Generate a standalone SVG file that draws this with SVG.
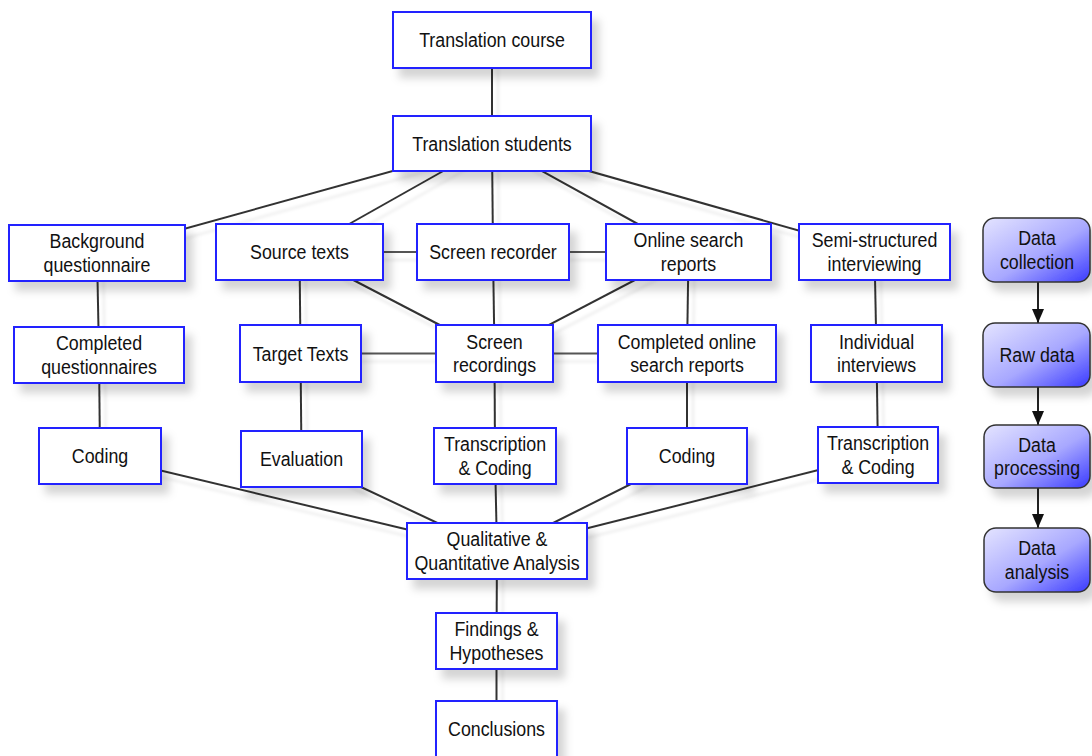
<svg xmlns="http://www.w3.org/2000/svg" width="1092" height="756" viewBox="0 0 1092 756">
<defs>
<filter id="sh" x="-20%" y="-20%" width="150%" height="160%">
<feDropShadow dx="7" dy="9" stdDeviation="4" flood-color="#000" flood-opacity="0.17"/>
</filter>
<filter id="lsh" x="-10%" y="-10%" width="120%" height="130%">
<feDropShadow dx="6" dy="8" stdDeviation="1.5" flood-color="#000" flood-opacity="0.08"/>
</filter>
<linearGradient id="lg" x1="0" y1="0" x2="1" y2="1">
<stop offset="0" stop-color="#e4e4ff"/>
<stop offset="0.55" stop-color="#a8a8ff"/>
<stop offset="1" stop-color="#3a3aff"/>
</linearGradient>
<marker id="ah" viewBox="0 0 14 12" refX="14" refY="6" markerWidth="14" markerHeight="12" markerUnits="userSpaceOnUse" orient="auto">
<path d="M0,0 L14,6 L0,12 Z" fill="#111"/>
</marker>
<style>
.b{fill:#fff;stroke:#2424ff;stroke-width:2;filter:url(#sh)}
.l{fill:url(#lg);stroke:#333;stroke-width:1.5;filter:url(#sh)}
.t{font-family:"Liberation Sans",Arial,sans-serif;font-size:20px;fill:#111;text-anchor:middle}
.c line{stroke:#333;stroke-width:2}
.a{stroke:#222;stroke-width:2}
</style>
</defs>
<g id="connectors" class="c" filter="url(#lsh)">
<line x1="492" y1="40" x2="492" y2="143.5"/>
<line x1="492" y1="143.5" x2="97" y2="253"/>
<line x1="492" y1="143.5" x2="299.5" y2="252"/>
<line x1="492" y1="143.5" x2="493" y2="252"/>
<line x1="492" y1="143.5" x2="688.5" y2="252"/>
<line x1="492" y1="143.5" x2="874.5" y2="252"/>
<line x1="299.5" y1="252" x2="493" y2="252" style="stroke:#555"/>
<line x1="493" y1="252" x2="688.5" y2="252" style="stroke:#555"/>
<line x1="299.5" y1="252" x2="494.5" y2="353.5"/>
<line x1="688.5" y1="252" x2="494.5" y2="353.5"/>
<line x1="493" y1="252" x2="494.5" y2="353.5"/>
<line x1="97" y1="253" x2="99" y2="355"/>
<line x1="299.5" y1="252" x2="300.5" y2="353.5"/>
<line x1="688.5" y1="252" x2="687" y2="353.5"/>
<line x1="874.5" y1="252" x2="876.5" y2="353.5"/>
<line x1="300.5" y1="353.5" x2="494.5" y2="353.5" style="stroke:#555"/>
<line x1="494.5" y1="353.5" x2="687" y2="353.5" style="stroke:#555"/>
<line x1="99" y1="355" x2="100" y2="456"/>
<line x1="300.5" y1="353.5" x2="301.5" y2="459"/>
<line x1="494.5" y1="353.5" x2="495" y2="456"/>
<line x1="687" y1="353.5" x2="687" y2="456"/>
<line x1="876.5" y1="353.5" x2="878" y2="455"/>
<line x1="100" y1="456" x2="497" y2="551"/>
<line x1="301.5" y1="459" x2="497" y2="551"/>
<line x1="495" y1="456" x2="497" y2="551"/>
<line x1="687" y1="456" x2="497" y2="551"/>
<line x1="878" y1="455" x2="497" y2="551"/>
<line x1="497" y1="551" x2="496.5" y2="641"/>
<line x1="496.5" y1="641" x2="496.5" y2="729"/>
</g>
<g id="n-course"><rect class="b" x="393" y="12" width="198" height="56"/><text class="t" transform="matrix(0.89 0 0 1 492 47)">Translation course</text></g>
<g id="n-students"><rect class="b" x="393" y="116" width="198" height="55"/><text class="t" transform="matrix(0.89 0 0 1 492 150.5)">Translation students</text></g>
<g id="n-bq"><rect class="b" x="9" y="225" width="176" height="56"/><text class="t" transform="matrix(0.89 0 0 1 97 248.3)"><tspan x="0">Background</tspan><tspan x="0" dy="23.4">questionnaire</tspan></text></g>
<g id="n-st"><rect class="b" x="216" y="224" width="167" height="56"/><text class="t" transform="matrix(0.89 0 0 1 299.5 259)">Source texts</text></g>
<g id="n-sr"><rect class="b" x="417" y="224" width="152" height="56"/><text class="t" transform="matrix(0.89 0 0 1 493 259)">Screen recorder</text></g>
<g id="n-osr"><rect class="b" x="606" y="224" width="165" height="56"/><text class="t" transform="matrix(0.89 0 0 1 688.5 247.3)"><tspan x="0">Online search</tspan><tspan x="0" dy="23.4">reports</tspan></text></g>
<g id="n-ssi"><rect class="b" x="799" y="224" width="151" height="56"/><text class="t" transform="matrix(0.89 0 0 1 874.5 247.3)"><tspan x="0">Semi-structured</tspan><tspan x="0" dy="23.4">interviewing</tspan></text></g>
<g id="n-cq"><rect class="b" x="14" y="327" width="170" height="56"/><text class="t" transform="matrix(0.89 0 0 1 99 350.3)"><tspan x="0">Completed</tspan><tspan x="0" dy="23.4">questionnaires</tspan></text></g>
<g id="n-tt"><rect class="b" x="240" y="325" width="121" height="57"/><text class="t" transform="matrix(0.89 0 0 1 300.5 360.5)">Target Texts</text></g>
<g id="n-srec"><rect class="b" x="436" y="325" width="117" height="57"/><text class="t" transform="matrix(0.89 0 0 1 494.5 348.8)"><tspan x="0">Screen</tspan><tspan x="0" dy="23.4">recordings</tspan></text></g>
<g id="n-cosr"><rect class="b" x="598" y="325" width="178" height="57"/><text class="t" transform="matrix(0.89 0 0 1 687 348.8)"><tspan x="0">Completed online</tspan><tspan x="0" dy="23.4">search reports</tspan></text></g>
<g id="n-ii"><rect class="b" x="811" y="325" width="131" height="57"/><text class="t" transform="matrix(0.89 0 0 1 876.5 348.8)"><tspan x="0">Individual</tspan><tspan x="0" dy="23.4">interviews</tspan></text></g>
<g id="n-cod1"><rect class="b" x="39" y="428" width="122" height="56"/><text class="t" transform="matrix(0.89 0 0 1 100 463)">Coding</text></g>
<g id="n-eval"><rect class="b" x="241" y="431" width="121" height="56"/><text class="t" transform="matrix(0.89 0 0 1 301.5 466)">Evaluation</text></g>
<g id="n-tc1"><rect class="b" x="434" y="428" width="122" height="56"/><text class="t" transform="matrix(0.89 0 0 1 495 451.3)"><tspan x="0">Transcription</tspan><tspan x="0" dy="23.4">&amp; Coding</tspan></text></g>
<g id="n-cod2"><rect class="b" x="627" y="428" width="120" height="56"/><text class="t" transform="matrix(0.89 0 0 1 687 463)">Coding</text></g>
<g id="n-tc2"><rect class="b" x="818" y="427" width="120" height="56"/><text class="t" transform="matrix(0.89 0 0 1 878 450.3)"><tspan x="0">Transcription</tspan><tspan x="0" dy="23.4">&amp; Coding</tspan></text></g>
<g id="n-qqa"><rect class="b" x="407" y="523" width="180" height="56"/><text class="t" transform="matrix(0.89 0 0 1 497 546.3)"><tspan x="0">Qualitative &amp;</tspan><tspan x="0" dy="23.4">Quantitative Analysis</tspan></text></g>
<g id="n-fh"><rect class="b" x="436" y="613" width="121" height="56"/><text class="t" transform="matrix(0.89 0 0 1 496.5 636.3)"><tspan x="0">Findings &amp;</tspan><tspan x="0" dy="23.4">Hypotheses</tspan></text></g>
<g id="n-conc"><rect class="b" x="436" y="701" width="121" height="58"/><text class="t" transform="matrix(0.89 0 0 1 496.5 736)">Conclusions</text></g>
<g id="legend-arrows">
<line class="a" x1="1038" y1="282" x2="1038" y2="323" marker-end="url(#ah)"/>
<line class="a" x1="1038" y1="387" x2="1038" y2="425" marker-end="url(#ah)"/>
<line class="a" x1="1038" y1="488" x2="1038" y2="528" marker-end="url(#ah)"/>
</g>
<g id="l-dc"><rect class="l" x="983" y="218" width="107" height="64" rx="12"/><text class="t" transform="matrix(0.89 0 0 1 1037 245.3)"><tspan x="0">Data</tspan><tspan x="0" dy="23.4">collection</tspan></text></g>
<g id="l-rd"><rect class="l" x="983" y="323" width="107" height="64" rx="12"/><text class="t" transform="matrix(0.89 0 0 1 1037 362)">Raw data</text></g>
<g id="l-dp"><rect class="l" x="984" y="425" width="106" height="63" rx="12"/><text class="t" transform="matrix(0.89 0 0 1 1037 451.8)"><tspan x="0">Data</tspan><tspan x="0" dy="23.4">processing</tspan></text></g>
<g id="l-da"><rect class="l" x="984" y="528" width="106" height="64" rx="12"/><text class="t" transform="matrix(0.89 0 0 1 1037 555.3)"><tspan x="0">Data</tspan><tspan x="0" dy="23.4">analysis</tspan></text></g>
</svg>
